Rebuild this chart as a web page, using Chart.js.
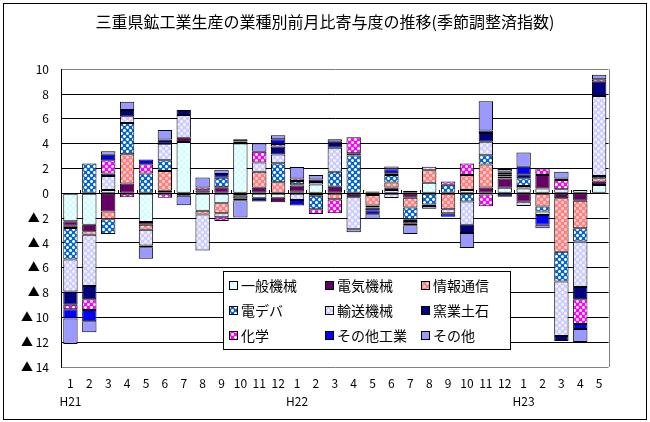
<!DOCTYPE html>
<html><head><meta charset="utf-8">
<script src="https://cdn.jsdelivr.net/npm/chart.js@4.4.0/dist/chart.umd.min.js"></script>
<style>html,body{margin:0;padding:0;background:#fff;}canvas{display:block;}</style>
</head><body>
<canvas id="c" width="650" height="422"></canvas>
<script>
const TITLE = '三重県鉱工業生産の業種別前月比寄与度の推移(季節調整済指数)';
const months = ['1','2','3','4','5','6','7','8','9','10','11','12','1','2','3','4','5','6','7','8','9','10','11','12','1','2','3','4','5'];
const eras = ['H21','','','','','','','','','','','','H22','','','','','','','','','','','','H23','','','',''];
const seriesNames = ['一般機械','電気機械','情報通信','電デバ','輸送機械','窯業土石','化学','その他工業','その他'];
const yTicks = [10,8,6,4,2,0,-2,-4,-6,-8,-10,-12,-14];

const ippan   = [-2.24,-2.53,0.27,null,-2.32,null,4.13,-1.41,-0.8,4.02,-0.35,-0.35,0.13,0.72,null,null,-0.13,0.27,0.2,0.86,null,0.27,-0.1,0.45,0.4,0.4,0.32,0.27,0.67];
const denki   = [-0.37,-0.53,-1.47,0.8,-0.21,0.21,0.35,0.25,0.5,0.15,0.45,-0.37,0.5,null,0.54,-0.32,null,0.2,-0.35,null,null,null,0.48,0.75,-0.67,1.07,-0.4,-0.59,0.27];
const joho    = [-0.19,-0.27,-0.61,2.35,-0.4,1.6,null,-0.3,-0.8,null,1.29,0.9,0.1,-0.19,-0.48,null,-0.86,0.4,-0.8,1.0,-1.29,1.2,1.85,0.15,0.19,-1.07,-4.3,-2.23,0.27];
const dendeba = [-2.53,2.4,-1.2,2.53,1.6,0.85,null,null,0.75,-0.2,null,1.53,0.27,-1.1,1.2,3.05,-0.16,0.6,-0.94,-0.9,0.7,-0.65,0.75,0.15,0.62,-0.4,-2.4,-1.07,0.19];
const yuso    = [-2.59,-4.13,1.12,0.53,-1.28,1.33,1.84,-2.9,-0.32,-0.2,0.75,0.7,-0.54,0.2,1.93,-2.57,0.15,-0.37,-0.13,0.28,-0.32,-1.88,1.07,null,-0.35,-0.27,-4.4,-3.67,6.45];
const yogyo   = [-1.07,-1.07,0.21,0.51,-0.14,0.35,0.4,null,null,0.2,-0.3,0.64,null,0.2,0.48,0.19,-0.22,0.15,null,-0.12,null,-0.67,0.72,-0.27,0.32,null,-0.4,-0.97,1.15];
const kagaku  = [-0.35,-0.88,1.07,-0.32,0.75,-0.35,null,0.22,-0.3,-0.15,0.86,0.2,0.19,-0.37,-1.13,1.29,null,null,-0.19,null,0.25,0.94,-0.95,0.15,null,0.53,0.75,-2.01,0.2];
const sonotaK = [-0.75,-0.91,0.45,null,0.37,null,-0.2,null,0.3,null,null,0.4,-0.45,null,null,null,-0.32,0.32,-0.16,null,-0.27,null,0.2,0.1,0.62,-0.8,0.13,-0.4,null];
const sonota  = [-2.05,-0.88,0.27,0.67,-0.93,0.77,-0.75,0.8,0.35,-1.4,0.67,0.32,0.94,0.35,0.22,-0.24,-0.35,0.22,-0.7,-0.22,null,-1.2,2.36,0.22,1.15,-0.27,0.54,-1.05,0.37];

const FONT = '"Noto Sans CJK JP", "Noto Sans", sans-serif';

function makePattern(bg, dot, mid){
  const c = document.createElement('canvas'); c.width = 6; c.height = 6;
  const g = c.getContext('2d');
  g.fillStyle = bg; g.fillRect(0,0,6,6);
  g.fillStyle = dot; g.fillRect(0,0,3,3); g.fillRect(3,3,3,3);
  g.fillStyle = mid;
  [[0,0],[2,0],[0,2],[2,2],[3,3],[5,3],[3,5],[5,5]].forEach(p=>g.fillRect(p[0],p[1],1,1));
  return g.createPattern(c,'repeat');
}
const ctx = document.getElementById('c').getContext('2d');
const fills = [
  makePattern('#CCFFFF','#FFFFFF','#E6FFFF'),
  '#660066',
  makePattern('#FF8080','#FFCCCC','#FFA6A6'),
  makePattern('#0066CC','#FFFFFF','#80B3E6'),
  makePattern('#CCCCFF','#F2F2FF','#DFDFFF'),
  '#000080',
  makePattern('#FF00FF','#FFFFFF','#FF80FF'),
  '#0000FF',
  '#9999FF'
];
const values = [ippan, denki, joho, dendeba, yuso, yogyo, kagaku, sonotaK, sonota];
const datasets = values.map((v,i)=>({
  label: seriesNames[i], data: v, backgroundColor: fills[i],
  borderColor:'#000', borderWidth:1, borderSkipped:false,
  barPercentage:0.76, categoryPercentage:1.0
}));

const deco = {
  id:'deco',
  beforeDatasetsDraw(chart){
    const a = chart.chartArea, c = chart.ctx;
    c.save(); c.strokeStyle = '#808080'; c.lineWidth = 1;
    c.beginPath(); c.moveTo(Math.round(a.right)+0.5, a.top); c.lineTo(Math.round(a.right)+0.5, a.bottom); c.stroke();
    c.restore();
  },
  afterDatasetsDraw(chart){
    const a = chart.chartArea, c = chart.ctx, y = chart.scales.y;
    const y0 = Math.round(y.getPixelForValue(0));
    const n = chart.data.labels.length;
    const w = (a.right - a.left) / n;
    c.save(); c.strokeStyle = '#000'; c.lineWidth = 1;
    c.beginPath();
    for (let k=1;k<n;k++){ const xx = Math.round(a.left + k*w)+0.5; c.moveTo(xx, y0-3); c.lineTo(xx, y0); }
    c.stroke(); c.restore();
  },
  afterDraw(chart){
    const c = chart.ctx;
    c.save();
    c.strokeStyle = '#000'; c.lineWidth = 1;
    c.strokeRect(3.5,3.5,643,416);
    const bx = 223, by = 271, bw = 287, bh = 78;
    c.fillStyle = '#fff'; c.fillRect(bx,by,bw,bh);
    c.strokeRect(bx+0.5,by+0.5,bw,bh);
    const cols = [229,325,421], rows = [285,310,335];
    c.font = '14px ' + FONT; c.textBaseline = 'middle'; c.textAlign='left';
    chart.data.datasets.forEach((ds,i)=>{
      const sx = cols[i%3], sy = rows[Math.floor(i/3)];
      c.fillStyle = ds.backgroundColor; c.fillRect(sx, sy-4, 8, 8);
      c.strokeStyle = '#000'; c.strokeRect(sx+0.5, sy-3.5, 8, 8);
      c.fillStyle = '#000'; c.fillText(ds.label, sx+12, sy+1);
    });
    c.restore();
  }
};

new Chart(ctx, {
  type:'bar',
  data:{ labels: months.map((m,i)=>[m, eras[i]]), datasets },
  options:{
    responsive:false, animation:false, events:[],
    layout:{ padding:{ left:0, right:0, top:0, bottom:0 } },
    plugins:{
      legend:{ display:false }, tooltip:{ enabled:false },
      title:{ display:true, text:TITLE, color:'#000', font:{ family:FONT, size:16, weight:'normal', lineHeight:1.15 }, padding:{ top:12.8, bottom:38.1 } }
    },
    scales:{
      x:{
        stacked:true, offset:true,
        grid:{ display:false, drawTicks:false }, border:{ display:false },
        ticks:{ color:'#000', font:{ family:FONT, size:12, lineHeight:1.5 }, padding:7, maxRotation:0, autoSkip:false },
        afterFit(s){ s.height = 55; }
      },
      y:{
        stacked:true, min:-14, max:10,
        afterBuildTicks(s){ s.ticks = yTicks.map(v=>({value:v})); },
        ticks:{ color:'#000', font:{ family:FONT, size:12 }, padding:12,
          callback:(v)=> v<0 ? '▲ ' + (-v) : String(v) },
        grid:{ drawTicks:false, lineWidth:1, color:(c)=> (c.tick && (c.tick.value===10 || c.tick.value===-14)) ? '#808080' : '#000' },
        border:{ display:true, color:'#000', width:1 },
        afterFit(s){ s.width = 61; }
      },
      yr:{
        position:'right', display:true, min:-14, max:10,
        ticks:{ display:false }, grid:{ display:false, drawTicks:false }, border:{ display:false },
        afterFit(s){ s.width = 41.4; }
      }
    }
  },
  plugins:[deco]
});
</script>
</body></html>
